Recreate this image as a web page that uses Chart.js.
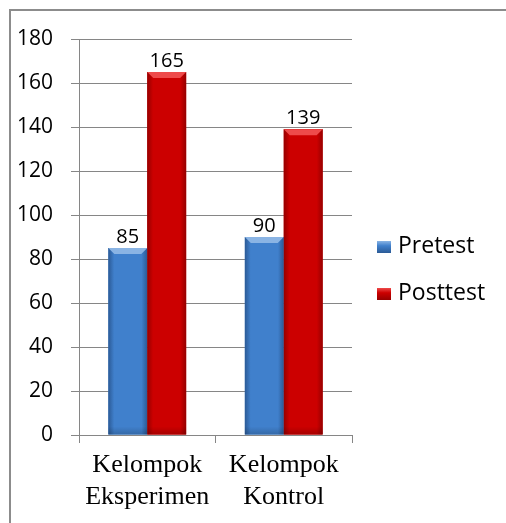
<!DOCTYPE html>
<html>
<head>
<meta charset="utf-8">
<script src="https://cdn.jsdelivr.net/npm/chart.js@4/dist/chart.umd.min.js"></script>
<style>
  html, body { margin: 0; padding: 0; background: #fff; }
  #wrap { width: 506px; height: 523px; position: relative; }
</style>
</head>
<body>
<div id="wrap"><canvas id="c" width="506" height="523"></canvas></div>
<script>
const categories = [["Kelompok", "Eksperimen"], ["Kelompok", "Kontrol"]];
const seriesNames = ["Pretest", "Posttest"];
const pretest = [85, 90];
const posttest = [165, 139];
const yTicks = [0, 20, 40, 60, 80, 100, 120, 140, 160, 180];

const colors = {
  Pretest: { base: '#4080cc', dark: '#2b5a96', light: '#8ab4e4' },
  Posttest: { base: '#cc0000', dark: '#960000', light: '#ee4a4a' }
};

const framePlugin = {
  id: 'frame',
  beforeDraw(chart) {
    const c = chart.ctx;
    c.save();
    c.fillStyle = '#fff';
    c.fillRect(0, 0, chart.width, chart.height);
    c.strokeStyle = '#8c8c8c';
    c.lineWidth = 2;
    c.beginPath();
    c.moveTo(10, chart.height);
    c.lineTo(10, 10);
    c.lineTo(chart.width, 10);
    c.stroke();
    c.restore();
  }
};

const barStylePlugin = {
  id: 'barStyle',
  afterDatasetsDraw(chart) {
    const c = chart.ctx;
    chart.data.datasets.forEach((ds, di) => {
      const meta = chart.getDatasetMeta(di);
      const col = colors[ds.label];
      meta.data.forEach((el, i) => {
        const l = el.x - el.width / 2, r = el.x + el.width / 2;
        const t = el.y, b = el.base;
        c.save();
        const g = c.createLinearGradient(l, 0, r, 0);
        g.addColorStop(0, col.dark);
        g.addColorStop(0.15, col.base);
        g.addColorStop(0.5, col.base);
        g.addColorStop(0.85, col.base);
        g.addColorStop(1, col.dark);
        c.fillStyle = g;
        c.fillRect(l, t, r - l, b - t);
        const bv = 6;
        c.fillStyle = col.light;
        c.beginPath();
        c.moveTo(l, t);
        c.lineTo(r, t);
        c.lineTo(r - bv, t + bv);
        c.lineTo(l + bv, t + bv);
        c.closePath();
        c.fill();
        const gb = c.createLinearGradient(0, b - 8, 0, b);
        gb.addColorStop(0, 'rgba(0,0,0,0)');
        gb.addColorStop(1, 'rgba(0,0,0,0.18)');
        c.fillStyle = gb;
        c.fillRect(l, b - 8, r - l, 8);
        c.restore();
        c.save();
        c.font = '20px "Open Sans", "Noto Sans", sans-serif';
        c.fillStyle = '#000';
        c.textAlign = 'center';
        c.textBaseline = 'alphabetic';
        c.fillText(String(ds.data[i]), el.x, t - 5);
        c.restore();
      });
    });
  }
};

const legendPlugin = {
  id: 'customLegend',
  afterDraw(chart) {
    const c = chart.ctx;
    const x0 = 377, ys = [247, 294];
    chart.data.datasets.forEach((ds, di) => {
      const col = colors[ds.label];
      const y = ys[di];
      c.save();
      const g = c.createLinearGradient(0, y - 6, 0, y + 6);
      g.addColorStop(0, col.light);
      g.addColorStop(0.4, col.base);
      g.addColorStop(1, col.dark);
      c.fillStyle = g;
      c.fillRect(x0, y - 6, 14, 12);
      c.font = '23px "Open Sans", "Noto Sans", sans-serif';
      c.fillStyle = '#000';
      c.textAlign = 'left';
      c.textBaseline = 'middle';
      c.fillText(ds.label, x0 + 21, y - 1);
      c.restore();
    });
  }
};

new Chart(document.getElementById('c'), {
  type: 'bar',
  data: {
    labels: categories,
    datasets: [
      { label: seriesNames[0], data: pretest, backgroundColor: colors.Pretest.base },
      { label: seriesNames[1], data: posttest, backgroundColor: colors.Posttest.base }
    ]
  },
  options: {
    responsive: false,
    animation: false,
    events: [],
    layout: { padding: { left: 0, top: 39, right: 154, bottom: 0 } },
    datasets: { bar: { categoryPercentage: 0.57, barPercentage: 1.0 } },
    plugins: { legend: { display: false }, tooltip: { enabled: false } },
    scales: {
      x: {
        afterFit(s) { s.height = 88; },
        grid: { drawOnChartArea: false, drawTicks: true, tickLength: 8, offset: true, color: '#868686', lineWidth: 1 },
        border: { display: true, color: '#868686' },
        ticks: {
          color: '#000',
          padding: 7,
          font: { family: '"Liberation Serif", "Times New Roman", serif', size: 26, lineHeight: 1.2 },
          maxRotation: 0
        }
      },
      y: {
        min: 0, max: 180,
        afterFit(s) { s.width = 79; },
        afterBuildTicks(s) { s.ticks = yTicks.map(v => ({ value: v })); },
        grid: { color: '#868686', tickLength: 8, lineWidth: 1 },
        border: { display: true, color: '#868686' },
        ticks: {
          color: '#000',
          padding: 18,
          font: { family: '"Open Sans", "Noto Sans", sans-serif', size: 21 }
        }
      }
    }
  },
  plugins: [framePlugin, barStylePlugin, legendPlugin]
});
</script>
</body>
</html>
